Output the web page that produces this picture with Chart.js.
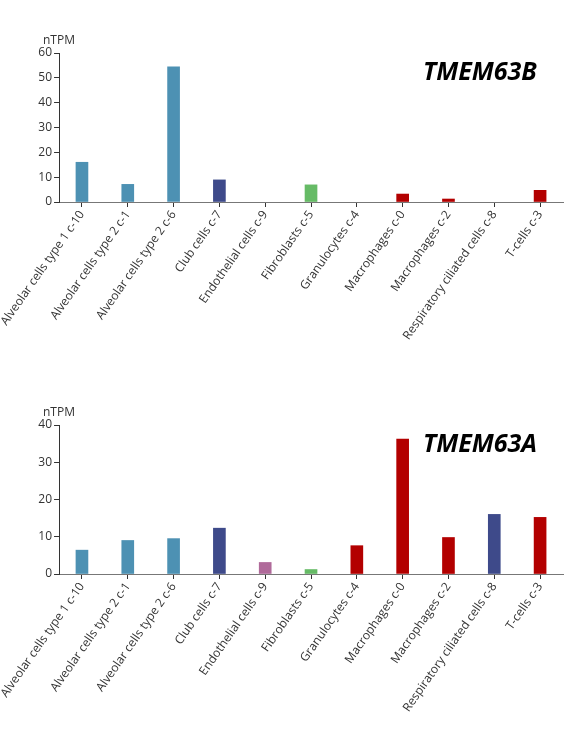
<!DOCTYPE html>
<html>
<head>
<meta charset="utf-8">
<script src="https://cdn.jsdelivr.net/npm/chart.js@4/dist/chart.umd.min.js"></script>
<style>
  html, body { margin: 0; padding: 0; background: #fff; }
  .box { position: relative; width: 565px; }
  #top { height: 372px; }
  #bottom { height: 370px; }
</style>
</head>
<body>
<div class="box" id="top"><canvas id="chartB"></canvas></div>
<div class="box" id="bottom"><canvas id="chartA"></canvas></div>
<script>
// cell types (same order in both charts)
const cellTypes = [
    'Alveolar cells type 1 c-10',
    'Alveolar cells type 2 c-1',
    'Alveolar cells type 2 c-6',
    'Club cells c-7',
    'Endothelial cells c-9',
    'Fibroblasts c-5',
    'Granulocytes c-4',
    'Macrophages c-0',
    'Macrophages c-2',
    'Respiratory ciliated cells c-8',
    'T-cells c-3'
];

// nTPM values
const tmem63bValues = [16.0, 7.1, 54.4, 8.9, 0, 6.9, 0, 3.2, 1.2, 0, 4.7];
const tmem63aValues = [6.4, 9.0, 9.5, 12.3, 3.1, 1.2, 7.6, 36.2, 9.8, 16.0, 15.2];

// y axis limits
const tmem63bMax = 60;
const tmem63aMax = 40;

// colour per cell group
const barColors = [
    '#4d91b3', '#4d91b3', '#4d91b3',
    '#3e4a8a',
    '#b06a9a',
    '#66bb66',
    '#b30000', '#b30000', '#b30000',
    '#3e4a8a',
    '#b30000'
];

const FONT = '"Open Sans", "Noto Sans", sans-serif';

// draws the "nTPM" unit label and the gene name
const labelsPlugin = {
    id: 'labels',
    afterDraw(chart, args, opts) {
        const ctx = chart.ctx;
        ctx.save();
        ctx.fillStyle = '#333';
        ctx.font = '12px ' + FONT;
        ctx.textAlign = 'left';
        ctx.textBaseline = 'alphabetic';
        ctx.fillText('nTPM', 43, 44);

        ctx.fillStyle = '#000';
        ctx.font = 'italic bold 25px ' + FONT;
        ctx.fillText(opts.gene, 423, 80);
        ctx.restore();
    }
};

function makeChart(id, gene, values, maxY, canvasHeight) {
    const ctx = document.getElementById(id).getContext('2d');
    return new Chart(ctx, {
        type: 'bar',
        data: {
            labels: cellTypes,
            datasets: [{
                data: values,
                // nothing is drawn for empty cells
                backgroundColor: c => values[c.dataIndex] > 0 ? barColors[c.dataIndex] : 'rgba(0,0,0,0)',
                borderWidth: 0,
                barThickness: 12
            }]
        },
        options: {
            responsive: true,
            maintainAspectRatio: false,
            animation: false,
            layout: { padding: { top: 53, right: 2, left: 0, bottom: 0 } },
            plugins: {
                legend: { display: false },
                tooltip: { enabled: false },
                labels: { gene: gene }
            },
            scales: {
                x: {
                    grid: {
                        offset: false,
                        drawOnChartArea: false,
                        drawTicks: true,
                        tickLength: 5,
                        color: '#333'
                    },
                    border: { color: '#777', width: 1 },
                    ticks: {
                        color: '#333',
                        font: { family: FONT, size: 12 },
                        minRotation: 55,
                        maxRotation: 55,
                        autoSkip: false,
                        padding: 1
                    },
                    afterFit(scale) { scale.height = canvasHeight - 202; }
                },
                y: {
                    min: 0,
                    max: maxY,
                    grid: {
                        drawOnChartArea: false,
                        drawTicks: true,
                        tickLength: 5,
                        color: '#333'
                    },
                    border: { color: '#333', width: 1 },
                    ticks: {
                        stepSize: 10,
                        color: '#333',
                        font: { family: FONT, size: 12 },
                        padding: 2
                    },
                    afterFit(scale) { scale.width = 59; }
                }
            }
        },
        plugins: [labelsPlugin]
    });
}

makeChart('chartB', 'TMEM63B', tmem63bValues, tmem63bMax, 372);
makeChart('chartA', 'TMEM63A', tmem63aValues, tmem63aMax, 370);
</script>
</body>
</html>
